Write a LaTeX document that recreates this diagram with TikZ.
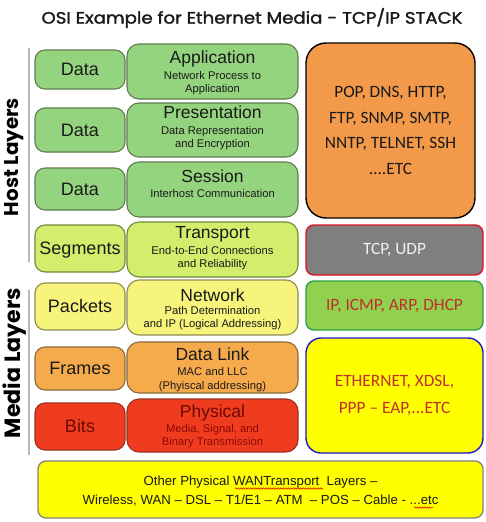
\documentclass[tikz,border=0pt]{standalone}
\usepackage{fontspec}
\setmainfont{Liberation Sans}
\newfontfamily\gothic{Poppins}
\newfontfamily\gothicb{Poppins}[FakeBold=1.6]
\newfontfamily\calfont{Carlito}
\usetikzlibrary{decorations.pathmorphing}
\definecolor{grnF}{HTML}{95D47E}\definecolor{grnD}{HTML}{5E7D4E}
\definecolor{trF}{HTML}{D3EE6C}\definecolor{trD}{HTML}{6E8A3A}
\definecolor{nwF}{HTML}{F7F47C}\definecolor{nwD}{HTML}{8E8C50}
\definecolor{dlF}{HTML}{F5AB4C}\definecolor{dlD}{HTML}{8A6A3A}
\definecolor{phF}{HTML}{F03C1E}\definecolor{phD}{HTML}{9A3020}
\definecolor{phT}{HTML}{6A0A05}\definecolor{phS}{HTML}{8B0A05}
\definecolor{orF}{HTML}{F39A4A}
\definecolor{gyF}{HTML}{7F7F7F}\definecolor{gyD}{HTML}{E01020}
\definecolor{ipF}{HTML}{92D050}\definecolor{ipD}{HTML}{2EA043}
\definecolor{redT}{HTML}{C0302A}
\definecolor{ylF}{HTML}{FFFF00}\definecolor{blD}{HTML}{1A1AC8}
\definecolor{txt}{HTML}{1A1A1A}
\tikzset{
  box/.style={rounded corners=10pt, line width=1.1pt, inner sep=0pt, text=txt},
  lbl/.style={box, minimum width=90pt, font=\fontsize{18}{18}\selectfont, text height=12.9pt, text depth=0pt},
  mid/.style={box, rounded corners=12pt, minimum width=171pt},
  ttl/.style={anchor=base, inner sep=0pt, text=txt, font=\fontsize{17.5}{18}\selectfont},
  sub/.style={anchor=base, inner sep=0pt, text=txt, font=\fontsize{11.2}{12}\selectfont},
  rbox/.style={box, line width=1.4pt, align=center, font=\calfont\fontsize{17.3}{25.5}\selectfont},
  side/.style={rotate=90, inner sep=0pt, text=black, font=\gothic\bfseries},
  sideline/.style={draw=black!28, line width=1.3pt},
  wtxt/.style={anchor=base, inner sep=0pt, text=txt, font=\fontsize{13.2}{19}\selectfont},
  squig/.style={draw=red!85!black, line width=0.5pt, decorate, decoration={snake, amplitude=0.7pt, segment length=2.5pt}}
}
\begin{document}
\begin{tikzpicture}[x=1pt,y=-1pt]
\fill[white] (0,0) rectangle (486,522);
\useasboundingbox (0,0) rectangle (486,522);
% title
\node[inner sep=0pt, text=txt] (title) at (252,18) {\resizebox{421pt}{15.5pt}{\gothicb OSI Example for Ethernet Media - TCP/IP STACK}};
% side labels
\coordinate (hl1) at (29,48); \coordinate (hl2) at (29,262);
\coordinate (ml1) at (29,290); \coordinate (ml2) at (29,455);
\draw[sideline] (hl1) -- (hl2);
\draw[sideline] (ml1) -- (ml2);
\node[side] (host) at (14,157) {\resizebox{118pt}{!}{Host Layers}};
\node[side] (media) at (15,363) {\resizebox{150pt}{!}{Media Layers}};
% row 1
\node[lbl, fill=grnF, draw=grnD, minimum height=39pt] (d1) at (80,69.5) {Data};
\node[mid, fill=grnF, draw=grnD, minimum height=55pt] (m1) at (212.5,71.5) {};
\node[ttl] (m1t) at (212.5,63) {Application};
\node[sub] (m1a) at (212.5,79) {Network Process to};
\node[sub] (m1b) at (212.5,92) {Application};
% row 2
\node[lbl, fill=grnF, draw=grnD, minimum height=44pt] (d2) at (80,130) {Data};
\node[mid, fill=grnF, draw=grnD, minimum height=54pt] (m2) at (212.5,130) {};
\node[ttl] (m2t) at (212.5,118) {Presentation};
\node[sub] (m2a) at (212.5,134) {Data Representation};
\node[sub] (m2b) at (212.5,147) {and Encryption};
% row 3
\node[lbl, fill=grnF, draw=grnD, minimum height=42pt] (d3) at (80,189) {Data};
\node[mid, fill=grnF, draw=grnD, minimum height=55pt] (m3) at (212.5,189.5) {};
\node[ttl] (m3t) at (212.5,182) {Session};
\node[sub] (m3a) at (212.5,197) {Interhost Communication};
% row 4
\node[lbl, fill=trF, draw=trD, minimum height=47pt] (d4) at (80,248.5) {Segments};
\node[mid, fill=trF, draw=trD, minimum height=55pt] (m4) at (212.5,249.5) {};
\node[ttl] (m4t) at (212.5,238) {Transport};
\node[sub] (m4a) at (212.5,254) {End-to-End Connections};
\node[sub] (m4b) at (212.5,267) {and Reliability};
% row 5
\node[lbl, fill=nwF, draw=nwD, minimum height=47pt] (d5) at (80,306.5) {Packets};
\node[mid, fill=nwF, draw=nwD, minimum height=55pt] (m5) at (212.5,307.5) {};
\node[ttl] (m5t) at (212.5,301) {Network};
\node[sub] (m5a) at (212.5,314) {Path Determination};
\node[sub] (m5b) at (212.5,327) {and IP (Logical Addressing)};
% row 6
\node[lbl, fill=dlF, draw=dlD, minimum height=43pt] (d6) at (80,368.5) {Frames};
\node[mid, fill=dlF, draw=dlD, minimum height=51pt] (m6) at (212.5,367.5) {};
\node[ttl] (m6t) at (212.5,360) {Data Link};
\node[sub] (m6a) at (212.5,375) {MAC and LLC};
\node[sub] (m6b) at (212.5,389) {(Phyiscal addressing)};
% row 7
\node[lbl, fill=phF, draw=phD, minimum height=47pt, text=phT] (d7) at (80,426.5) {Bits};
\node[mid, fill=phF, draw=phD, minimum height=53pt] (m7) at (212.5,425.5) {};
\node[ttl, text=phT] (m7t) at (212.5,417) {Physical};
\node[sub, text=phS] (m7a) at (212.5,432) {Media, Signal, and};
\node[sub, text=phS] (m7b) at (212.5,445) {Binary Transmission};
% right column
\node[rbox, rounded corners=20pt, fill=orF, draw=black, minimum width=169pt, minimum height=175pt] (app) at (390.5,130.5)
  {POP, DNS, HTTP,\\FTP, SNMP, SMTP,\\NNTP, TELNET, SSH\\....ETC};
\node[rbox, rounded corners=8pt, fill=gyF, draw=gyD, minimum width=177pt, minimum height=50pt, text=white!94!black] (tcp) at (394.5,250) {TCP, UDP};
\node[rbox, rounded corners=8pt, fill=ipF, draw=ipD, minimum width=177pt, minimum height=49pt, text=redT] (ip) at (394.5,305.5) {IP, ICMP, ARP, DHCP};
\node[rbox, rounded corners=15pt, fill=ylF, draw=blD, minimum width=177pt, minimum height=115pt, text=redT, font=\calfont\fontsize{17.3}{27}\selectfont] (eth) at (394.5,395.5) {ETHERNET, XDSL,\\PPP – EAP,...ETC};
% bottom
\node[box, rounded corners=8pt, fill=ylF, draw=black!50, line width=1.3pt, minimum width=445pt, minimum height=57pt] (wan) at (260.5,489.5) {};
\node[wtxt] (wan1) at (260.5,485.5) {Other Physical WANTransport\ \ Layers –};
\node[wtxt] (wan2) at (260.5,504) {Wireless, WAN – DSL – T1/E1 – ATM\ \ – POS – Cable - ...etc};
\coordinate (sq1a) at (235,488.5); \coordinate (sq1b) at (323,488.5);
\coordinate (sq2a) at (414,507.5); \coordinate (sq2b) at (433,507.5);
\draw[squig] (sq1a) -- (sq1b);
\draw[squig] (sq2a) -- (sq2b);
\end{tikzpicture}
\end{document}
